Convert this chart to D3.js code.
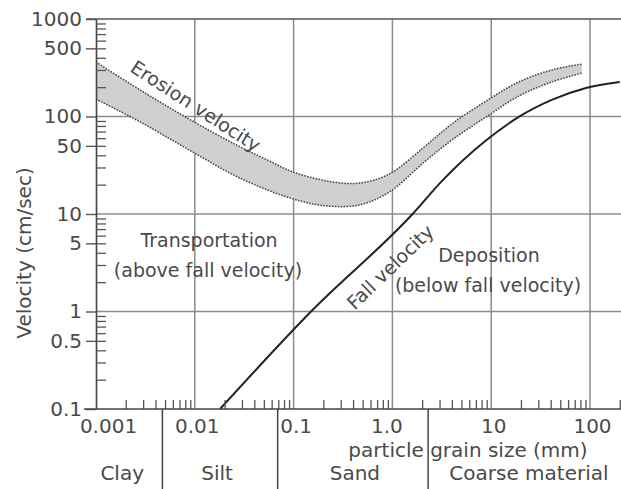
<!DOCTYPE html>
<html>
<head>
<meta charset="utf-8">
<script src="https://cdn.jsdelivr.net/npm/d3@7"></script>
<style>
  html, body { margin: 0; padding: 0; background: #fff; }
  svg { display: block; }
  text { font-family: "DejaVu Sans", sans-serif; fill: #4a4a4a; }
</style>
</head>
<body>
<svg id="chart" width="621" height="489"></svg>
<script>
// ---------- data ----------
const xTickValues = [0.001, 0.01, 0.1, 1, 10, 100];
const xTickLabels = ["0.001", "0.01", "0.1", "1.0", "10", "100"];
const yTickValues = [0.1, 0.5, 1, 5, 10, 50, 100, 500, 1000];
const yTickLabels = ["0.1", "0.5", "1", "5", "10", "50", "100", "500", "1000"];

// Erosion velocity band (grain size mm, velocity cm/s)
const erosionUpperSize = [0.001, 0.0028, 0.0083, 0.0285, 0.057, 0.098, 0.25, 0.47, 0.93, 2.1, 4.0, 8.9, 19, 41, 83];
const erosionUpperVel  = [362, 187, 97, 49, 35, 27, 21.3, 20.8, 25.7, 48.7, 84, 144, 226, 300, 345];
const erosionLowerSize = [0.001, 0.0028, 0.0089, 0.0285, 0.098, 0.215, 0.465, 0.93, 2.1, 4.0, 8.9, 19, 41, 83];
const erosionLowerVel  = [151, 88, 45, 23.4, 14.3, 12.1, 12.4, 16.8, 34.1, 57.4, 99, 162, 226, 279];

// Fall velocity curve
const fallSize = [0.018, 0.15, 1.6, 3.2, 8.9, 19, 41, 91, 200];
const fallVel  = [0.1, 1, 10, 22, 57, 99, 148, 196, 226];

// Grain-size classes
const classNames  = ["Clay", "Silt", "Sand", "Coarse material"];
const classBounds = [0.001, 0.0047, 0.069, 2.3, 200];

// ---------- layout ----------
const svg = d3.select("#chart");
const mLeft = 96, mTop = 19, mBottom = 409, W = 621, H = 489;
const FS = "20px";

const x = d3.scaleLog().domain([0.001, 100]).range([mLeft, 590]);
const y = d3.scaleLog().domain([0.1, 1000]).range([mBottom, mTop]);

svg.append("rect").attr("width", W).attr("height", H).attr("fill", "#fff");

// grid
const grid = svg.append("g").attr("stroke", "#8c8c8c").attr("stroke-width", 1.5);
grid.selectAll("line.v").data(xTickValues.slice(1)).join("line")
  .attr("x1", d => x(d)).attr("x2", d => x(d))
  .attr("y1", y(1000)).attr("y2", y(0.1));
grid.selectAll("line.h").data([1, 10, 100]).join("line")
  .attr("x1", x(0.001)).attr("x2", W)
  .attr("y1", d => y(d)).attr("y2", d => y(d));

// top border
svg.append("line").attr("x1", x(0.001) - 10).attr("x2", W)
  .attr("y1", y(1000)).attr("y2", y(1000))
  .attr("stroke", "#555").attr("stroke-width", 1.6);

// ---------- erosion band ----------
const line = d3.line().x(d => x(d[0])).y(d => y(d[1])).curve(d3.curveCatmullRom.alpha(0.5));
const upperPts = erosionUpperSize.map((d, i) => [d, erosionUpperVel[i]]);
const lowerPts = erosionLowerSize.map((d, i) => [d, erosionLowerVel[i]]);
const upperPath = line(upperPts);
const lowerRevPath = line(lowerPts.slice().reverse());
svg.append("path")
  .attr("d", upperPath + lowerRevPath.replace(/^M/, "L") + "Z")
  .attr("fill", "#cfcfcf").attr("stroke", "none");
[upperPath, line(lowerPts)].forEach(p => {
  svg.append("path").attr("d", p).attr("fill", "none")
    .attr("stroke", "#444").attr("stroke-width", 1.5)
    .attr("stroke-dasharray", "1.6 1.3");
});

// ---------- fall velocity ----------
const fallPts = fallSize.map((d, i) => [d, fallVel[i]]);
svg.append("path")
  .attr("d", d3.line().x(d => x(d[0])).y(d => y(d[1])).curve(d3.curveMonotoneX)(fallPts))
  .attr("fill", "none").attr("stroke", "#222").attr("stroke-width", 2);

// ---------- axes ----------
const yAxis = svg.append("g").attr("transform", `translate(${mLeft},0)`)
  .call(d3.axisLeft(y).tickValues(yTickValues)
    .tickFormat((d, i) => yTickLabels[i]).tickSizeInner(10).tickSizeOuter(0).tickPadding(4));
yAxis.select(".domain").attr("stroke", "#444").attr("stroke-width", 1.6);
yAxis.selectAll(".tick line").attr("stroke", "#555").attr("stroke-width", 1.4);
yAxis.selectAll(".tick text").style("font-size", FS).attr("fill", "#4a4a4a")
  .style("font-family", "'DejaVu Sans', sans-serif");

const yMinor = [];
[0.1, 1, 10, 100].forEach(dec => [2, 3, 4, 5, 6, 7, 8, 9].forEach(m => yMinor.push(dec * m)));
const yMin = svg.append("g").attr("transform", `translate(${mLeft},0)`)
  .call(d3.axisRight(y).tickValues(yMinor).tickFormat("").tickSizeInner(10).tickSizeOuter(0));
yMin.select(".domain").remove();
yMin.selectAll(".tick line").attr("stroke", "#555").attr("stroke-width", 1.3);

const xMinor = [];
[0.001, 0.01, 0.1, 1, 10, 100].forEach(dec => [2, 3, 4, 5, 6, 7, 8, 9].forEach(m => xMinor.push(dec * m)));
const xMin = svg.append("g").attr("transform", `translate(0,${mBottom})`)
  .call(d3.axisTop(x).tickValues(xMinor).tickFormat("").tickSizeInner(9).tickSizeOuter(0));
xMin.select(".domain").remove();
xMin.selectAll(".tick line").attr("stroke", "#555").attr("stroke-width", 1.3);

svg.append("line").attr("x1", mLeft - 12).attr("x2", W)
  .attr("y1", mBottom).attr("y2", mBottom).attr("stroke", "#444").attr("stroke-width", 1.6);
const xAxis = svg.append("g").attr("transform", `translate(0,${mBottom})`)
  .call(d3.axisBottom(x).tickValues(xTickValues)
    .tickFormat((d, i) => xTickLabels[i]).tickSize(0).tickPadding(10));
xAxis.select(".domain").remove();
xAxis.selectAll(".tick text").style("font-size", FS).attr("fill", "#4a4a4a")
  .style("font-family", "'DejaVu Sans', sans-serif")
  .attr("dx", (d, i) => i === 0 ? 12 : (i === 3 ? -6 : 2));

svg.selectAll("line.sep").data(classBounds.slice(1, 4)).join("line")
  .attr("x1", d => x(d)).attr("x2", d => x(d))
  .attr("y1", mBottom).attr("y2", H)
  .attr("stroke", "#444").attr("stroke-width", 1.5);
const classShift = [-7, -3, 2, 5];
svg.selectAll("text.cls").data(classNames).join("text")
  .attr("x", (d, i) => (x(classBounds[i]) + Math.min(x(classBounds[i + 1]), W)) / 2 + classShift[i])
  .attr("y", 480).attr("text-anchor", "middle")
  .style("font-size", FS).text(d => d);

svg.append("text").attr("x", 468).attr("y", 456.5).attr("text-anchor", "middle")
  .style("font-size", FS).text("particle grain size (mm)");

svg.append("text").attr("transform", "translate(25,253) rotate(-90)")
  .attr("text-anchor", "middle").attr("dominant-baseline", "middle")
  .style("font-size", FS).text("Velocity (cm/sec)");

svg.append("text").attr("x", 209).attr("y", 247).attr("text-anchor", "middle")
  .style("font-size", "19px").text("Transportation");
svg.append("text").attr("x", 208).attr("y", 277).attr("text-anchor", "middle")
  .style("font-size", "19px").text("(above fall velocity)");
svg.append("text").attr("x", 489).attr("y", 262).attr("text-anchor", "middle")
  .style("font-size", "19px").text("Deposition");
svg.append("text").attr("x", 488).attr("y", 292).attr("text-anchor", "middle")
  .style("font-size", "19px").text("(below fall velocity)");

svg.append("text").attr("transform", "translate(195,107) rotate(33)")
  .attr("text-anchor", "middle").attr("dominant-baseline", "middle")
  .style("font-size", "19px").text("Erosion velocity");
svg.append("text").attr("transform", "translate(391,268) rotate(-44)")
  .attr("text-anchor", "middle").attr("dominant-baseline", "middle")
  .style("font-size", "19px").text("Fall velocity");
</script>
</body>
</html>
